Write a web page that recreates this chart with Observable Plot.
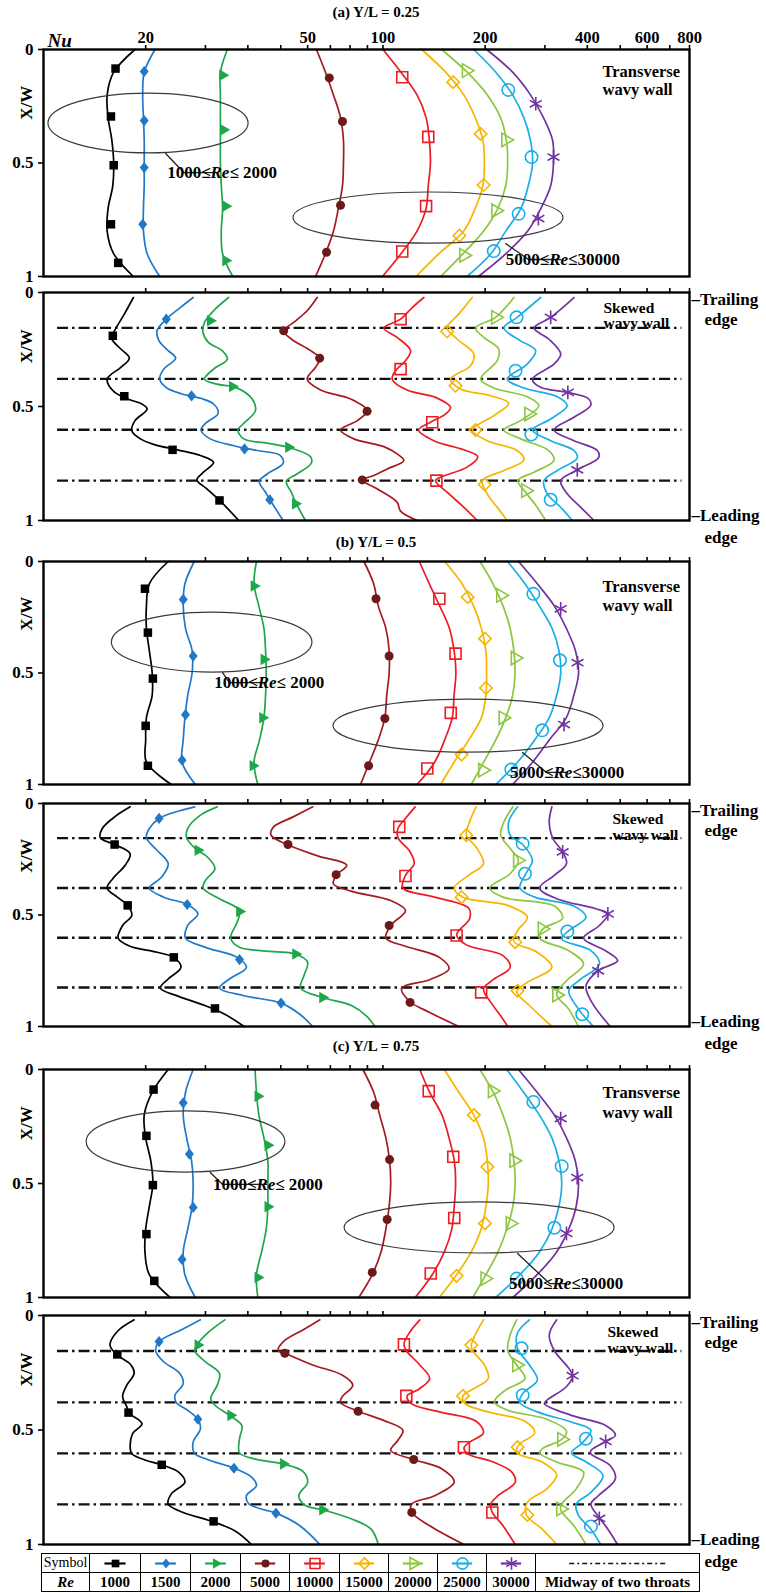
<!DOCTYPE html>
<html><head><meta charset="utf-8">
<script src="https://cdn.jsdelivr.net/npm/d3@7"></script>
<script src="https://cdn.jsdelivr.net/npm/@observablehq/plot@0.6"></script>
<style>
body{margin:0;background:#fff;}
#page{position:relative;width:766px;height:1593px;overflow:hidden;background:#fff;font-family:"Liberation Serif","Times New Roman",serif;color:#000;}
.title{position:absolute;left:0;width:752px;text-align:center;font-weight:bold;font-size:15px;line-height:18px;}
#legend{position:absolute;left:41px;top:1553px;border-collapse:collapse;table-layout:fixed;width:647px;}
#legend td{border:1.5px solid #000;padding:0;height:18px;text-align:center;font-weight:bold;font-size:15px;line-height:18px;white-space:nowrap;}
#legend td svg{display:block;margin:0 auto;}
</style></head>
<body><div id="page"></div>
<script>
// ---------- categories / styles ----------
const reValues = [1000, 1500, 2000, 5000, 10000, 15000, 20000, 25000, 30000];
const lineColors = ["#000000", "#1f78c8", "#1ea64b", "#a31b20", "#ed1c24", "#f7b500", "#8dc63f", "#1aaee6", "#7232a0"];
const xTickValues = [20, 30, 40, 50, 60, 70, 80, 90, 100, 200, 300, 400, 500, 600, 700, 800];
const xLabelPositions = [20, 60, 100, 200, 400, 600, 800];
const xLabelTexts = ["20", "50", "100", "200", "400", "600", "800"];
const yTickValues = [0, 0.5, 1];
const throatPositions = [0.155, 0.379, 0.602, 0.825];
const throatSpan = [11, 760];
const transverseF = [0, 0.1, 0.2, 0.3, 0.4, 0.5, 0.6, 0.7, 0.8, 0.9, 1];

// ---------- (a) Y/L = 0.25 ----------
const taNu = [
  [18.6,16.1,15.4,15.5,15.9,16.1,16.0,15.5,15.4,16.1,18.4],
  [21.3,19.8,19.6,19.7,19.8,19.8,19.8,19.7,19.7,20.2,22.0],
  [34.8,33.2,33.2,33.2,33.2,33.2,33.4,33.7,33.4,33.7,36.1],
  [63.7,67.7,71.5,75.0,76.5,76.5,76.0,73.9,71.5,67.7,63.3],
  [100,113,126,134,137,138,136,134,126,113,99.7],
  [130,153,173,187,197,199,197,187,173,146,125],
  [149,177,203,222,231,233,230,218,198,172,148],
  [185,215,241,260,272,276,268,255,230,208,177],
  [202,241,272,297,316,318,312,292,267,230,191]
];
const taMarks = [
  [[0.084,16.3],[0.295,15.8],[0.51,16.1],[0.77,15.8],[0.94,16.6]],
  [[0.097,19.8],[0.313,19.8],[0.52,19.8],[0.77,19.6]],
  [[0.113,33.7],[0.354,33.9],[0.69,34.4],[0.93,34.4]],
  [[0.125,69.5],[0.317,76.0],[0.686,75.0],[0.893,68.2]],
  [[0.122,114],[0.385,136],[0.69,134],[0.89,114]],
  [[0.144,161],[0.372,194],[0.597,198],[0.82,168]],
  [[0.093,176],[0.398,230],[0.71,215],[0.907,173]],
  [[0.178,234],[0.474,274],[0.724,251],[0.888,212]],
  [[0.239,282],[0.474,318],[0.745,287]]
];
const saCurves = [
  [[0.022,18.4],[0.095,17.3],[0.175,16.1],[0.204,15.9],[0.248,16.9],[0.288,17.9],[0.328,16.9],[0.38,15.4],[0.434,16.1],[0.467,17.7],[0.489,19.5],[0.511,20.2],[0.562,18.6],[0.606,18.2],[0.642,19.3],[0.667,21.2],[0.69,24.8],[0.715,29.0],[0.745,31.7],[0.788,29.6],[0.822,28.3],[0.861,30.3],[0.915,33.2],[1,37.6]],
  [[0.022,27.6],[0.066,25.3],[0.117,23.0],[0.168,21.6],[0.212,21.9],[0.255,23.3],[0.288,24.5],[0.336,22.6],[0.38,22.0],[0.419,23.1],[0.445,25.6],[0.464,29.0],[0.489,31.7],[0.53,32.7],[0.574,30.0],[0.603,29.1],[0.642,31.0],[0.672,36.4],[0.693,42.6],[0.715,49.9],[0.749,50.8],[0.796,45.6],[0.828,43.2],[0.876,45.1],[0.912,46.6],[1,50.8]],
  [[0.022,35.1],[0.08,31.7],[0.131,29.8],[0.175,29.5],[0.219,30.6],[0.255,33.6],[0.292,34.8],[0.336,31.7],[0.38,29.8],[0.402,32.4],[0.416,36.8],[0.467,41.2],[0.518,42.1],[0.577,38.7],[0.603,37.4],[0.642,38.9],[0.661,45.6],[0.682,53.4],[0.72,61.2],[0.749,61.5],[0.796,55.8],[0.828,51.9],[0.876,53.7],[0.927,55.6],[1,59.1]],
  [[0.022,64.0],[0.08,59.8],[0.131,54.6],[0.168,51.0],[0.204,53.7],[0.255,61.2],[0.288,65.1],[0.328,63.3],[0.38,59.8],[0.428,65.5],[0.467,80.3],[0.518,89.8],[0.562,84.0],[0.603,75.0],[0.642,82.1],[0.676,100.6],[0.708,110.1],[0.737,115.2],[0.774,102.9],[0.803,94.0],[0.822,86.9],[0.861,96.1],[0.92,110.1],[0.959,112.7],[1,126.1]],
  [[0.022,132],[0.066,122],[0.117,112.7],[0.156,100.6],[0.197,110.1],[0.255,120.6],[0.299,116.5],[0.343,108.9],[0.38,106.5],[0.428,117.8],[0.46,142.8],[0.504,158.2],[0.533,152.8],[0.569,138.1],[0.603,127.4],[0.65,141.2],[0.69,173.1],[0.72,190.2],[0.766,177],[0.81,147.8],[0.825,142.8],[0.876,154.5],[0.942,173.1],[1,189.5]],
  [[0.022,183.3],[0.095,167.1],[0.156,154.5],[0.204,165.4],[0.27,185.3],[0.321,181.2],[0.38,158.2],[0.423,169.3],[0.453,207.6],[0.486,234.7],[0.54,212.3],[0.603,183.3],[0.65,202.8],[0.693,248.6],[0.734,260.2],[0.781,227.2],[0.825,196.3],[0.883,202.8],[0.942,217.1],[1,232.3]],
  [[0.022,243.1],[0.109,214.7],[0.156,187.4],[0.197,198.3],[0.248,219.3],[0.299,217.1],[0.38,194],[0.419,212.3],[0.457,266.1],[0.496,287.8],[0.562,254.5],[0.603,227.2],[0.642,254.5],[0.693,307.9],[0.737,319],[0.788,278.5],[0.825,249.6],[0.876,263.2],[0.942,284.8],[1,301.4]],
  [[0.022,291.5],[0.109,248.6],[0.156,227.2],[0.212,254.5],[0.255,281.7],[0.314,266.1],[0.38,232.3],[0.419,260.2],[0.457,326.2],[0.496,349.1],[0.555,312],[0.603,275.6],[0.65,312],[0.693,365.4],[0.726,373.7],[0.781,326.2],[0.825,298],[0.883,304.8],[0.942,333.9],[1,361.5]],
  [[0.022,365.4],[0.109,312],[0.156,278.5],[0.204,307.9],[0.27,333.9],[0.314,319],[0.38,275.6],[0.416,291.5],[0.438,349.1],[0.467,404.1],[0.496,409.3],[0.547,365.4],[0.603,319],[0.65,365.4],[0.693,428],[0.723,432.4],[0.778,373.7],[0.825,333.9],[0.883,349.1],[0.942,382.5],[1,418.5]]
];
const saMarks = [
  [[0.19,16.0],[0.455,17.3],[0.69,24.0],[0.912,33.0]],
  [[0.117,23.0],[0.453,27.3],[0.686,39.1],[0.909,46.4]],
  [[0.124,31.0],[0.412,36.0],[0.679,52.7],[0.927,55.2]],
  [[0.168,51.0],[0.288,65.1],[0.521,89.8],[0.822,86.9]],
  [[0.117,112.7],[0.336,112.7],[0.569,139.7],[0.825,143.7]],
  [[0.171,154.5],[0.409,163.6],[0.603,187.4],[0.842,199.3]],
  [[0.109,214.7],[0.533,268.9],[0.869,263.2]],
  [[0.109,247.5],[0.343,245.9],[0.623,273.7],[0.909,312]],
  [[0.109,312],[0.438,350.5],[0.778,373.7]]
];

// ---------- (b) Y/L = 0.5 ----------
const tbNu = [
  [23.3,20.5,20.1,20.1,20.5,20.9,20.9,20.1,20.0,20.1,23.8],
  [27.8,26.1,25.8,26.2,27.4,27.4,26.6,26.1,25.8,25.6,28.0],
  [42.4,41.7,43.1,44.6,45.1,45.3,45.1,44.6,43.3,41.7,42.8],
  [87.9,93.9,96.9,102,104.3,104.3,102.6,101.3,96.9,91.3,85.9],
  [128,137,147,157,162,164,162,160,152,142,126],
  [152,171,185,195,201,202,201,195,179,162,148],
  [193,211,226,237,243,245,241,230,215,198,182],
  [233,262,289,315,330,334,325,309,280,249,215],
  [251,285,320,347,369,377,365,347,309,276,241]
];
const tbMarks = [
  [[0.122,19.9],[0.319,20.3],[0.525,21.0],[0.737,20.0],[0.916,20.3]],
  [[0.17,25.8],[0.424,27.6],[0.687,26.2],[0.891,25.6]],
  [[0.11,41.7],[0.439,44.6],[0.701,44.2],[0.916,41.4]],
  [[0.167,95.4],[0.424,104.3],[0.704,101.3],[0.916,90.7]],
  [[0.167,146.6],[0.413,163.6],[0.679,158.4],[0.928,135.1]],
  [[0.16,177.7],[0.346,199.8],[0.567,201.1],[0.866,170.5]],
  [[0.152,222.2],[0.433,245.2],[0.701,225.8],[0.936,196.6]],
  [[0.145,277.4],[0.443,332.2],[0.757,294.5],[0.933,238.9]],
  [[0.212,333.9],[0.454,374.4],[0.731,341.6]]
];
const sbCurves = [
  [[0.015,18.0],[0.06,16.2],[0.112,14.9],[0.153,14.7],[0.184,16.2],[0.225,18.0],[0.277,17.4],[0.337,16.0],[0.379,15.4],[0.42,16.5],[0.457,17.7],[0.502,18.2],[0.547,17.1],[0.604,16.6],[0.64,18.0],[0.667,21.6],[0.69,24.2],[0.735,25.4],[0.787,23.3],[0.828,22.1],[0.865,25.0],[0.907,30.0],[0.945,34.2],[1,39.0]],
  [[0.015,27.9],[0.037,24.6],[0.067,21.9],[0.112,20.5],[0.153,20.1],[0.21,21.6],[0.27,23.3],[0.33,22.3],[0.379,20.5],[0.42,22.6],[0.453,26.5],[0.495,28.5],[0.547,26.6],[0.604,26.2],[0.645,30.0],[0.69,37.2],[0.735,39.6],[0.787,35.3],[0.828,33.0],[0.862,39.0],[0.895,50.1],[0.945,56.9],[1,62.1]],
  [[0.015,32.5],[0.052,29.0],[0.112,26.6],[0.153,26.4],[0.202,28.0],[0.24,30.4],[0.292,32.0],[0.345,30.0],[0.379,29.5],[0.427,33.0],[0.48,37.8],[0.532,37.2],[0.604,35.6],[0.645,37.8],[0.664,47.6],[0.675,55.3],[0.712,60.0],[0.772,58.5],[0.828,57.2],[0.87,66.4],[0.907,81.0],[0.952,89.3],[1,94.8]],
  [[0.015,62.1],[0.06,54.4],[0.105,47.6],[0.142,46.8],[0.184,52.2],[0.235,64.2],[0.277,78.2],[0.319,73.2],[0.36,71.4],[0.394,81.0],[0.435,105.4],[0.48,116.5],[0.547,105.4],[0.604,102],[0.64,116.5],[0.69,146.6],[0.742,156.6],[0.79,137.3],[0.828,113.5],[0.889,120.2],[0.937,137.3],[1,167.3]],
  [[0.015,124.4],[0.067,116.5],[0.112,110.7],[0.153,110.7],[0.217,120.2],[0.27,123.6],[0.322,116.5],[0.379,114.5],[0.42,142],[0.469,178.8],[0.517,180],[0.589,164.8],[0.634,176.1],[0.682,225.8],[0.735,237],[0.79,211.4],[0.832,197.8],[0.892,207.9],[0.952,222.2],[1,233.2]],
  [[0.015,188.1],[0.082,180],[0.142,176.1],[0.195,188.1],[0.27,197.8],[0.322,178.8],[0.379,162.2],[0.42,172.1],[0.457,233.2],[0.51,266.3],[0.57,249.3],[0.619,243],[0.667,284.6],[0.735,314.6],[0.802,266.3],[0.844,247.7],[0.907,270.6],[1,314.6]],
  [[0.015,241.4],[0.082,227.3],[0.142,222.2],[0.202,237],[0.255,250.7],[0.315,237],[0.379,206.3],[0.42,225.8],[0.46,319.9],[0.514,338.4],[0.562,296.3],[0.604,289.1],[0.66,352.7],[0.72,390],[0.795,347.3],[0.855,324.9],[0.922,352.7],[1,376.8]],
  [[0.015,249.3],[0.082,234.7],[0.142,237],[0.184,258],[0.255,275.6],[0.31,264.7],[0.379,253.2],[0.42,280],[0.46,365.2],[0.51,396.5],[0.57,352.7],[0.607,336.2],[0.66,409.9],[0.72,434.4],[0.795,376.8],[0.84,352.7],[0.922,376.8],[1,416.8]],
  [[0.015,314.6],[0.082,308.9],[0.157,316.7],[0.217,338.4],[0.27,347.3],[0.322,319.9],[0.379,289.1],[0.427,324.9],[0.472,423.5],[0.495,459.8],[0.547,434.4],[0.604,390],[0.66,452.7],[0.705,491.4],[0.75,430.5],[0.817,396.5],[0.892,412.7],[1,467.3]]
];
const sbMarks = [
  [[0.184,16.2],[0.457,17.7],[0.69,24.2],[0.919,32.0]],
  [[0.067,21.9],[0.453,26.5],[0.7,37.8],[0.895,50.1]],
  [[0.21,28.5],[0.484,37.8],[0.675,55.3],[0.87,66.4]],
  [[0.184,52.5],[0.319,72.8],[0.547,104.3],[0.892,120.2]],
  [[0.105,111.7],[0.325,116.5],[0.592,164.8],[0.847,194.7]],
  [[0.142,176.1],[0.42,170.5],[0.622,245.2],[0.84,249.3]],
  [[0.255,249.1],[0.562,294.5],[0.859,324.9]],
  [[0.18,258],[0.315,262.1],[0.574,349.3],[0.945,386.4]],
  [[0.217,338.4],[0.495,459.8],[0.75,430.5]]
];

// ---------- (c) Y/L = 0.75 ----------
const tcNu = [
  [23.3,20.9,19.8,20.0,20.7,21.0,20.5,20.0,19.9,20.5,23.6],
  [27.6,26.2,25.8,26.4,27.3,27.6,27.4,26.6,25.8,26.1,28.0],
  [42.0,42.4,43.1,44.6,45.8,45.8,45.8,45.3,43.9,42.4,42.8],
  [87.3,93.9,97.8,102,104.6,105.4,104.3,102,98.7,93.0,84.9],
  [128.4,137.3,149.3,156.6,162.2,163.7,162.2,159.5,151.7,139.7,124.4],
  [151.7,167.3,185.2,197.8,203,204.3,201.1,194.7,182.1,164.8,146.6],
  [192.9,211.4,225.8,237,243,245.2,241.4,231.7,218.3,201.1,183.9],
  [231.7,259.7,289.1,314.6,330,336.2,330,314.6,289.1,253.2,214.8],
  [250.7,284.6,319.9,347.3,368.6,376.8,371,352.7,324.9,284.6,241.4]
];
const tcMarks = [
  [[0.088,21.1],[0.291,20.1],[0.507,21.0],[0.722,20.1],[0.927,21.2]],
  [[0.146,25.8],[0.371,26.9],[0.605,27.6],[0.833,25.6]],
  [[0.117,42.8],[0.332,45.8],[0.602,45.8],[0.912,42.8]],
  [[0.156,94.8],[0.395,104.6],[0.658,102.9],[0.89,93.0]],
  [[0.095,136.4],[0.383,161.1],[0.651,162.2],[0.895,138.3]],
  [[0.2,185.2],[0.427,203],[0.675,199.8],[0.905,164.8]],
  [[0.094,210],[0.4,243],[0.675,237],[0.917,199.8]],
  [[0.142,277.4],[0.424,336.2],[0.694,319.9],[0.917,247.7]],
  [[0.215,333.9],[0.474,373.4],[0.719,347.3]]
];
const scCurves = [
  [[0.019,18.5],[0.07,16.5],[0.129,15.7],[0.17,16.4],[0.216,18.1],[0.253,18.5],[0.304,17.6],[0.355,17.1],[0.399,17.6],[0.424,17.8],[0.472,19.5],[0.516,18.3],[0.575,18.0],[0.604,18.2],[0.633,20.1],[0.652,22.3],[0.684,25.0],[0.728,26.1],[0.779,23.8],[0.823,23.3],[0.86,25.8],[0.896,30.9],[0.94,36.6],[1,41.0]],
  [[0.019,29.0],[0.063,25.4],[0.114,21.9],[0.154,21.4],[0.202,22.6],[0.253,25.2],[0.297,25.8],[0.348,24.4],[0.38,24.6],[0.414,26.6],[0.453,28.5],[0.494,29.0],[0.553,27.6],[0.6,27.8],[0.629,30.4],[0.667,36.4],[0.706,41.0],[0.743,42.4],[0.787,39.6],[0.823,40.3],[0.848,44.6],[0.863,48.4],[0.918,56.9],[1,65.2]],
  [[0.019,34.2],[0.077,30.4],[0.129,28.3],[0.154,27.9],[0.202,30.0],[0.253,33.0],[0.304,32.5],[0.363,31.1],[0.392,32.0],[0.436,35.3],[0.48,38.4],[0.538,37.8],[0.6,37.8],[0.626,41.7],[0.648,50.6],[0.681,58.1],[0.728,60.0],[0.787,56.5],[0.83,59.1],[0.848,66.4],[0.889,81.0],[0.933,92.3],[1,96.9]],
  [[0.019,65.2],[0.063,58.1],[0.114,50.9],[0.154,49.1],[0.165,51.4],[0.216,62.1],[0.26,75.8],[0.304,81.5],[0.355,75.8],[0.38,75.0],[0.418,84.5],[0.458,100.3],[0.501,114.5],[0.545,110.7],[0.589,105.4],[0.629,123.2],[0.67,149.3],[0.728,162.2],[0.787,142],[0.823,121.6],[0.86,121.6],[0.918,137.3],[1,173.2]],
  [[0.019,128.4],[0.077,119.4],[0.126,115.3],[0.154,117.2],[0.216,128.4],[0.275,137.3],[0.322,127.6],[0.351,117.8],[0.385,121.2],[0.421,146.6],[0.462,188.1],[0.512,197.8],[0.556,178.8],[0.579,173.2],[0.604,177.7],[0.64,211.4],[0.684,239.7],[0.728,245.2],[0.787,218.3],[0.823,207.9],[0.86,210],[0.918,225.8],[1,245.2]],
  [[0.019,197.8],[0.077,188.1],[0.129,182.1],[0.154,183.9],[0.216,199.1],[0.275,204.3],[0.322,183.9],[0.351,172.1],[0.385,174.4],[0.421,204.3],[0.462,262.1],[0.512,280],[0.56,253.2],[0.582,247.7],[0.604,250.7],[0.64,294.5],[0.696,324.9],[0.757,304],[0.816,266.3],[0.871,264.7],[0.933,294.5],[1,324.9]],
  [[0.019,247.7],[0.085,237],[0.154,233.2],[0.216,247.7],[0.275,262.1],[0.326,229.6],[0.377,212.8],[0.414,233.2],[0.453,304],[0.506,347.3],[0.541,336.2],[0.582,294.5],[0.6,289.1],[0.64,324.9],[0.684,390],[0.757,371],[0.823,336.2],[0.848,333.9],[0.918,365.2],[1,396.5]],
  [[0.019,270],[0.077,249],[0.143,249],[0.216,270],[0.282,285],[0.341,258],[0.38,253],[0.421,285],[0.465,359],[0.502,410],[0.56,384],[0.6,359],[0.64,397],[0.699,445],[0.772,410],[0.823,371],[0.874,377],[0.933,410],[1,438]],
  [[0.019,325],[0.085,309],[0.154,320],[0.231,353],[0.263,362],[0.311,347],[0.37,304],[0.385,299],[0.436,359],[0.48,453],[0.523,484],[0.55,453],[0.589,410],[0.604,410],[0.655,467],[0.713,484],[0.787,431],[0.823,410],[0.883,434],[0.933,460],[1,491]]
];
const scMarks = [
  [[0.17,16.5],[0.424,17.8],[0.652,22.3],[0.899,31.7]],
  [[0.114,21.9],[0.453,28.5],[0.667,36.4],[0.863,48.4]],
  [[0.129,28.5],[0.436,35.6],[0.648,50.9],[0.848,66.4]],
  [[0.165,51.4],[0.418,84.5],[0.629,123.2],[0.86,121.6]],
  [[0.126,115.3],[0.351,117.2],[0.575,173.2],[0.86,210]],
  [[0.129,182.1],[0.351,172.1],[0.575,249.3],[0.871,266.3]],
  [[0.216,247.7],[0.541,336.2],[0.845,333.9]],
  [[0.143,256],[0.348,258],[0.538,396],[0.921,410]],
  [[0.263,362],[0.55,453],[0.886,434]]
];

// ---------- annotations (ellipses: Nu extent, X/W extent) ----------
const taEllipses = [
  {nu:[10.34,40.2], f:[0.194,0.458], leader:[[22.9,0.458],[25.9,0.542],[31.7,0.542]], at:[33.7,0.542], pre:"1000≤", post:"≤ 2000"},
  {nu:[54.5,340.4], f:[0.63,0.855], leader:[[229.8,0.855],[268.5,0.925],[333.7,0.925]], at:[340,0.925], pre:"5000≤", post:"≤30000"}
];
const tbEllipses = [
  {nu:[15.9,62.0], f:[0.229,0.498], leader:[[33.7,0.498],[35.3,0.543],[45.4,0.543]], at:[46.4,0.543], pre:"1000≤", post:"≤ 2000"},
  {nu:[71.5,446.7], f:[0.619,0.857], leader:[[257.8,0.857],[303.4,0.946],[347.7,0.946]], at:[350,0.946], pre:"5000≤", post:"≤30000"}
];
const tcEllipses = [
  {nu:[13.4,51.6], f:[0.184,0.452], leader:[[31.0,0.452],[33.7,0.504],[45.4,0.504]], at:[46.0,0.504], pre:"1000≤", post:"≤ 2000"},
  {nu:[77.1,481.3], f:[0.583,0.807], leader:[[249.2,0.807],[309.7,0.939],[347.7,0.939]], at:[347.7,0.939], pre:"5000≤", post:"≤30000"}
];

// ---------- symbols ----------
const triangleRight = {draw(ctx, size) {
  const h = Math.sqrt(size / (Math.sqrt(3) * 3));
  ctx.moveTo(2 * h, 0); ctx.lineTo(-h, -Math.sqrt(3) * h); ctx.lineTo(-h, Math.sqrt(3) * h); ctx.closePath();
}};
const diamondTall = {draw(ctx, size) {
  const a = Math.sqrt(size) * 0.55;
  ctx.moveTo(0, -1.25 * a); ctx.lineTo(a, 0); ctx.lineTo(0, 1.25 * a); ctx.lineTo(-a, 0); ctx.closePath();
}};
const markerStyles = [
  {symbol: "square", r: 4.8, fill: "#000000", stroke: "none", sw: 0},
  {symbol: diamondTall, r: 4.6, fill: "#1f78c8", stroke: "none", sw: 0},
  {symbol: triangleRight, r: 4.3, fill: "#1ea64b", stroke: "none", sw: 0},
  {symbol: "circle", r: 4.5, fill: "#6a1a1a", stroke: "none", sw: 0},
  {symbol: "square", r: 6.2, fill: "none", stroke: "#ed1c24", sw: 1.6},
  {symbol: "diamond2", r: 5.6, fill: "none", stroke: "#f7b500", sw: 1.6},
  {symbol: triangleRight, r: 5, fill: "none", stroke: "#8dc63f", sw: 1.6},
  {symbol: "circle", r: 6.2, fill: "none", stroke: "#1aaee6", sw: 1.6},
  {symbol: "asterisk", r: 6.5, fill: "none", stroke: "#7232a0", sw: 1.6}
];

const SVGNS = "http://www.w3.org/2000/svg";
function ellipseMark(e) {
  return (index, scales) => {
    const x1 = scales.x(e.nu[0]), x2 = scales.x(e.nu[1]);
    const y1 = scales.y(e.f[0]), y2 = scales.y(e.f[1]);
    const el = document.createElementNS(SVGNS, "ellipse");
    el.setAttribute("cx", (x1 + x2) / 2); el.setAttribute("cy", (y1 + y2) / 2);
    el.setAttribute("rx", Math.abs(x2 - x1) / 2); el.setAttribute("ry", Math.abs(y2 - y1) / 2);
    el.setAttribute("fill", "none"); el.setAttribute("stroke", "#3a3a3a"); el.setAttribute("stroke-width", "1.2");
    return el;
  };
}
function rangeLabelMark(e) {
  return (index, scales) => {
    const t = document.createElementNS(SVGNS, "text");
    t.setAttribute("x", scales.x(e.at[0])); t.setAttribute("y", scales.y(e.at[1]));
    t.setAttribute("dy", "0.35em"); t.setAttribute("font-size", "17"); t.setAttribute("font-weight", "bold");
    t.setAttribute("fill", "#000");
    const a = document.createElementNS(SVGNS, "tspan"); a.textContent = e.pre;
    const b = document.createElementNS(SVGNS, "tspan"); b.textContent = "Re"; b.setAttribute("font-style", "italic");
    const c = document.createElementNS(SVGNS, "tspan"); c.textContent = e.post;
    t.append(a, b, c);
    return t;
  };
}

function transverseCurves(table) {
  return table.map(vals => vals.map((nu, j) => [transverseF[j], nu]));
}
function rowsOf(curves) {
  const rows = [];
  curves.forEach((pts, i) => pts.forEach(([f, nu]) => rows.push({re: reValues[i], f, nu})));
  return rows;
}
const txt = (s, o) => Plot.text([s], Object.assign({text: d => d}, o));

function makePanel(p) {
  const marks = [];
  if (p.kind === "skewed") {
    marks.push(Plot.ruleY(throatPositions, {x1: throatSpan[0], x2: throatSpan[1], stroke: "#111", strokeWidth: 2.3, strokeDasharray: "11,4,2.5,4"}));
  }
  marks.push(Plot.line(rowsOf(p.curves), {x: "nu", y: "f", z: "re", stroke: "re", strokeWidth: 1.7, curve: "catmull-rom"}));
  p.marks.forEach((pts, i) => {
    const st = markerStyles[i];
    marks.push(Plot.dot(pts.map(([f, nu]) => ({f, nu})), {x: "nu", y: "f", symbol: st.symbol, r: st.r, fill: st.fill, stroke: st.stroke, strokeWidth: st.sw}));
  });
  (p.ellipses || []).forEach(e => {
    marks.push(ellipseMark(e));
    marks.push(Plot.line(e.leader, {x: d => d[0], y: d => d[1], stroke: "#222", strokeWidth: 1.3}));
    marks.push(rangeLabelMark(e));
  });
  marks.push(Plot.frame({stroke: "#000", strokeWidth: 2.4}));
  marks.push(Plot.axisX({anchor: "top", ticks: xTickValues, tickSize: 5, strokeWidth: 1.6, tickFormat: () => "", label: null}));
  if (p.labels) {
    marks.push(Plot.text(xLabelPositions.map((v, i) => ({v, t: xLabelTexts[i]})),
      {x: "v", text: "t", frameAnchor: "top", lineAnchor: "bottom", dy: -7, fontSize: 16.5}));
    marks.push(txt("Nu", {frameAnchor: "top-left", textAnchor: "start", dx: 4, dy: -16, fontSize: 19, fontStyle: "italic"}));
  }
  marks.push(Plot.axisY({anchor: "left", ticks: yTickValues, tickSize: 5, tickPadding: 5, strokeWidth: 1.6, label: null, fontSize: 17, tickFormat: d => String(d)}));
  marks.push(Plot.text([{t: "X/W", f: 0.31}], {y: "f", text: "t", frameAnchor: "left", dx: -17, rotate: -90, fontSize: 17}));
  p.wall.forEach(([s, dy]) => marks.push(txt(s, {frameAnchor: "top-right", textAnchor: "start", dx: p.wallDx, dy, fontSize: p.wallFont})));
  if (p.kind === "skewed") {
    marks.push(txt("–Trailing", {frameAnchor: "top-right", textAnchor: "start", dx: 2, fontSize: 17}));
    marks.push(txt("edge", {frameAnchor: "top-right", textAnchor: "start", dx: 15, dy: 20, fontSize: 17}));
    marks.push(txt("–Leading", {frameAnchor: "bottom-right", textAnchor: "start", dx: 2, fontSize: 17}));
    marks.push(txt("edge", {frameAnchor: "bottom-right", textAnchor: "start", dx: 15, dy: 22, fontSize: 17}));
  }
  const svg = Plot.plot({
    width: 766, height: p.h + p.mt + p.mb,
    marginTop: p.mt, marginBottom: p.mb, marginLeft: 43, marginRight: 77,
    x: {type: "log", domain: [10, 800]},
    y: {domain: [0, 1], reverse: true},
    color: {type: "ordinal", domain: reValues, range: lineColors},
    style: {fontFamily: "'Liberation Serif', 'Times New Roman', serif", fontSize: "17px", fontWeight: "bold", background: "none", overflow: "visible", color: "#000"},
    marks
  });
  svg.style.position = "absolute";
  svg.style.left = "0px";
  svg.style.top = (p.top - p.mt) + "px";
  return svg;
}

const page = document.getElementById("page");
[["(a) Y/L = 0.25", 3], ["(b) Y/L = 0.5", 533], ["(c) Y/L = 0.75", 1037]].forEach(([s, top]) => {
  const d = document.createElement("div"); d.className = "title"; d.style.top = top + "px"; d.textContent = s; page.appendChild(d);
});

const panels = [
  {kind: "transverse", top: 49, h: 227, mt: 49, mb: 6, curves: transverseCurves(taNu), marks: taMarks, ellipses: taEllipses, labels: true, wall: [["Transverse", 16], ["wavy wall", 34]], wallDx: -87, wallFont: 16.5},
  {kind: "skewed", top: 292, h: 228, mt: 12, mb: 6, curves: saCurves, marks: saMarks, wall: [["Skewed", 9], ["wavy wall", 24]], wallDx: -86, wallFont: 15.5},
  {kind: "transverse", top: 561, h: 223, mt: 10, mb: 6, curves: transverseCurves(tbNu), marks: tbMarks, ellipses: tbEllipses, wall: [["Transverse", 19], ["wavy wall", 38]], wallDx: -87, wallFont: 16.5},
  {kind: "skewed", top: 803, h: 223, mt: 12, mb: 6, curves: sbCurves, marks: sbMarks, wall: [["Skewed", 9], ["wavy wall", 25]], wallDx: -77, wallFont: 15.5},
  {kind: "transverse", top: 1069, h: 228, mt: 10, mb: 6, curves: transverseCurves(tcNu), marks: tcMarks, ellipses: tcEllipses, wall: [["Transverse", 17], ["wavy wall", 37]], wallDx: -87, wallFont: 16.5},
  {kind: "skewed", top: 1315, h: 229, mt: 12, mb: 6, curves: scCurves, marks: scMarks, wall: [["Skewed", 10], ["wavy wall", 26]], wallDx: -82, wallFont: 15.5}
];
panels.forEach(p => page.appendChild(makePanel(p)));

// ---------- legend table ----------
const colWidths = [47, 50, 49, 49, 48, 49, 48, 48, 48, 48, 163];
function legendSample(i, w) {
  const st = markerStyles[i];
  return Plot.plot({
    width: w, height: 18, margin: 0, axis: null, x: {domain: [0, 1]}, y: {domain: [0, 1]},
    style: {background: "none", overflow: "visible"},
    marks: [
      Plot.ruleY([0.5], {x1: 0.28, x2: 0.72, stroke: lineColors[i], strokeWidth: 2.2}),
      Plot.dot([{}], {frameAnchor: "middle", symbol: st.symbol, r: st.r * 0.9, fill: st.fill, stroke: st.stroke, strokeWidth: st.sw})
    ]
  });
}
function throatSample(w) {
  return Plot.plot({
    width: w, height: 18, margin: 0, axis: null, x: {domain: [0, 1]}, y: {domain: [0, 1]},
    style: {background: "none"},
    marks: [Plot.ruleY([0.5], {x1: 0.2, x2: 0.8, stroke: "#111", strokeWidth: 1.5, strokeDasharray: "5,3,2,3"})]
  });
}
const table = document.createElement("table"); table.id = "legend";
const r1 = table.insertRow(), r2 = table.insertRow();
const h1 = r1.insertCell(); h1.textContent = "Symbol"; h1.style.fontWeight = "normal"; h1.style.fontSize = "14px"; h1.style.width = colWidths[0] + "px";
const h2 = r2.insertCell(); h2.innerHTML = "<i>Re</i>";
reValues.forEach((re, i) => {
  const c = r1.insertCell(); c.style.width = colWidths[i + 1] + "px"; c.appendChild(legendSample(i, colWidths[i + 1] - 2));
  const d = r2.insertCell(); d.textContent = String(re);
});
const m1 = r1.insertCell(); m1.style.width = colWidths[10] + "px"; m1.appendChild(throatSample(colWidths[10] - 2));
const m2 = r2.insertCell(); m2.textContent = "Midway of two throats";
page.appendChild(table);
</script></body></html>
